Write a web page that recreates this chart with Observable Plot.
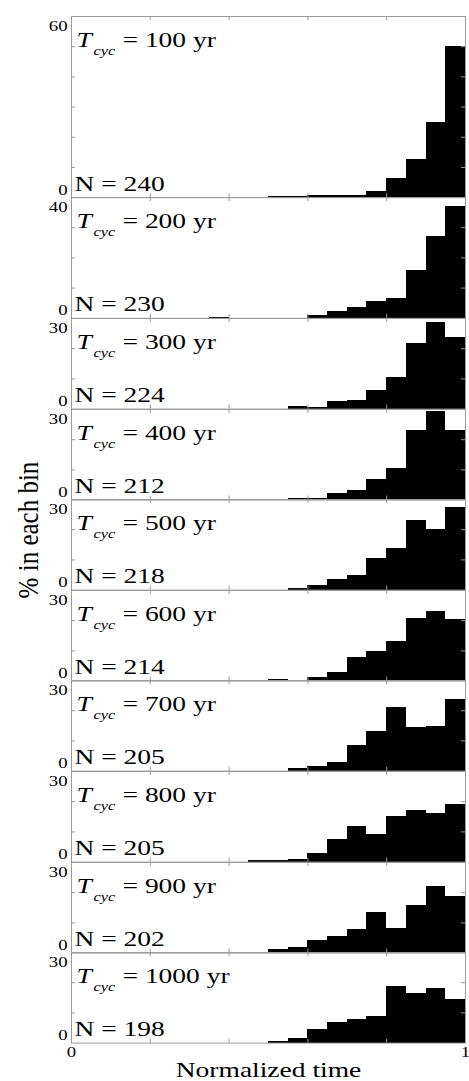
<!DOCTYPE html>
<html>
<head>
<meta charset="utf-8">
<script src="https://cdn.jsdelivr.net/npm/d3@7"></script>
<script src="https://cdn.jsdelivr.net/npm/@observablehq/plot@0.6"></script>
<style>
  html, body { margin: 0; padding: 0; background: #fff; }
  #chart { position: relative; width: 469px; height: 1081px; overflow: hidden; font-family: "Liberation Serif", "Times New Roman", serif; }
  #chart svg { position: absolute; left: 0; overflow: visible; background: transparent; }
  #chart svg text { font-family: "Liberation Serif", serif !important; }
  #ylab { position: absolute; left: 28px; top: 530px; font-size: 25px; line-height: 1; white-space: nowrap; color: #000;
          transform: translate(-50%, -50%) scaleX(1.2) rotate(-90deg); }
</style>
</head>
<body>
<div id="chart"><div id="ylab">% in each bin</div></div>
<script>
// ---- data ----
const binStart = [0, 0.05, 0.1, 0.15, 0.2, 0.25, 0.3, 0.35, 0.4, 0.45, 0.5, 0.55, 0.6, 0.65, 0.7, 0.75, 0.8, 0.85, 0.9, 0.95];
const binWidth = 0.05;
const tcyc = [100, 200, 300, 400, 500, 600, 700, 800, 900, 1000];
const nEvents = [240, 230, 224, 212, 218, 214, 205, 205, 202, 198];
const yMax = [60, 40, 30, 30, 30, 30, 30, 30, 30, 30];
const pct100  = [0,0,0,0,0,0,0,0,0,0, 0.4,0.4,0.8,0.8,0.8, 2.1, 6.3,12.5,25.0,50.0];
const pct200  = [0,0,0,0,0,0,0,0.4,0,0, 0,0,0.9,2.2,3.7, 5.6, 6.5,15.9,27.0,37.0];
const pct300  = [0,0,0,0,0,0,0,0,0,0, 0,0.9,0.4,2.5,3.0, 6.0,10.4,21.8,28.6,23.6];
const pct400  = [0,0,0,0,0,0,0,0,0,0, 0,0.5,0.5,2.2,3.3, 6.9,10.6,22.9,29.2,22.9];
const pct500  = [0,0,0,0,0,0,0,0,0,0, 0,0.5,1.4,3.4,4.8,10.6,13.7,23.1,20.1,27.5];
const pct600  = [0,0,0,0,0,0,0,0,0,0, 0.5,0,1.3,2.9,7.8, 9.8,13.1,20.6,23.0,20.3];
const pct700  = [0,0,0,0,0,0,0,0,0,0, 0,0.8,1.5,3.0,8.5,13.2,21.1,14.3,14.8,23.6];
const pct800  = [0,0,0,0,0,0,0,0,0,0.5, 0.5,1.0,3.0,7.4,11.8, 9.1,15.1,17.1,16.0,19.0];
const pct900  = [0,0,0,0,0,0,0,0,0,0, 1.2,1.7,4.3,5.4,7.8,13.3, 8.3,15.7,21.9,18.6];
const pct1000 = [0,0,0,0,0,0,0,0,0,0, 0.5,1.5,4.4,6.9,7.9, 8.8,18.8,16.5,18.0,14.4];
const series = [pct100, pct200, pct300, pct400, pct500, pct600, pct700, pct800, pct900, pct1000];
const xTicks = [0.2, 0.4, 0.6, 0.8];
const yTicksByMax = {60: [10, 20, 30, 40, 50], 40: [10, 20, 30], 30: [10, 20]};
const xEndLabels = [0, 1];
const xTitle = "Normalized time";

// ---- layout / style ----
const W = 469, ML = 71, MR = 4, M = 14;
const innerW = W - ML - MR;
const pxPerUnit = 3.02;
const firstTop = 16;
const gray = "#9a9a9a";
const font = "Liberation Serif";
const stretch = 1.25;

function stretchText(svg, s) {
  svg.querySelectorAll("text").forEach(t => {
    const x = parseFloat(t.getAttribute("x")) || 0;
    const y = parseFloat(t.getAttribute("y")) || 0;
    const old = t.getAttribute("transform") || "";
    t.setAttribute("transform", `${old} translate(${x},${y}) scale(${s},1) translate(${-x},${-y})`);
  });
}

const chart = document.getElementById("chart");
let panelTop = firstTop;
series.forEach((vals, i) => {
  const ymax = yMax[i];
  const innerH = ymax * pxPerUnit;
  const rows = binStart.map((b, j) => ({x1: b, x2: b + binWidth, v: vals[j]}));
  const isLast = i === series.length - 1;
  const marks = [
    Plot.rect(rows, {x1: "x1", x2: "x2", y1: 0, y2: "v", fill: "black", shapeRendering: "crispEdges"}),
    Plot.frame({stroke: gray, strokeWidth: 1}),
    Plot.tickX(xTicks, {x: d => d, stroke: gray, insetTop: innerH - 4}),
    Plot.tickX(xTicks, {x: d => d, stroke: gray, insetBottom: innerH - 4}),
    Plot.tickY(yTicksByMax[ymax], {y: d => d, stroke: gray, insetRight: innerW - 4}),
    Plot.tickY(yTicksByMax[ymax], {y: d => d, stroke: gray, insetLeft: innerW - 4}),
    Plot.text([0], {y: d => d, text: d => String(d), frameAnchor: "left", textAnchor: "end", lineAnchor: "bottom", dx: -4, dy: -3, fontSize: 15, fontFamily: font, fill: "black"}),
    Plot.text([ymax], {y: d => d, text: d => String(d), frameAnchor: "left", textAnchor: "end", lineAnchor: "top", dx: -4, dy: 4, fontSize: 15, fontFamily: font, fill: "black"}),
    Plot.text([tcyc[i]], {text: () => "T", frameAnchor: "top-left", textAnchor: "start", lineAnchor: "bottom", dx: 5, dy: 31, fontSize: 22, fontStyle: "italic", fontFamily: font, fill: "black"}),
    Plot.text([tcyc[i]], {text: () => "cyc", frameAnchor: "top-left", textAnchor: "start", lineAnchor: "bottom", dx: 22, dy: 39, fontSize: 13, fontStyle: "italic", fontFamily: font, fill: "black"}),
    Plot.text([tcyc[i]], {text: d => `= ${d} yr`, frameAnchor: "top-left", textAnchor: "start", lineAnchor: "bottom", dx: 51, dy: 31, fontSize: 22, fontFamily: font, fill: "black"}),
    Plot.text([nEvents[i]], {text: d => `N = ${d}`, frameAnchor: "bottom-left", textAnchor: "start", lineAnchor: "bottom", dx: 3, dy: -7, fontSize: 22, fontFamily: font, fill: "black"})
  ];
  if (isLast) {
    marks.push(
      Plot.text(xEndLabels, {x: d => d, text: d => String(d), frameAnchor: "bottom", textAnchor: "middle", lineAnchor: "top", dy: 3, fontSize: 15, fontFamily: font, fill: "black"}),
      Plot.text([xTitle], {text: d => d, frameAnchor: "bottom", textAnchor: "middle", lineAnchor: "bottom", dy: 34, dx: 0, fontSize: 22, fontFamily: font, fill: "black"})
    );
  }
  const svg = Plot.plot({
    width: W,
    height: innerH + 2 * M,
    marginLeft: ML, marginRight: MR, marginTop: M, marginBottom: M,
    x: {domain: [0, 1], axis: null},
    y: {domain: [0, ymax], axis: null},
    style: {background: "transparent", overflow: "visible", fontFamily: font},
    marks
  });
  stretchText(svg, stretch);
  svg.style.top = (panelTop - M) + "px";
  chart.appendChild(svg);
  panelTop += innerH;
});
</script>
</body>
</html>
